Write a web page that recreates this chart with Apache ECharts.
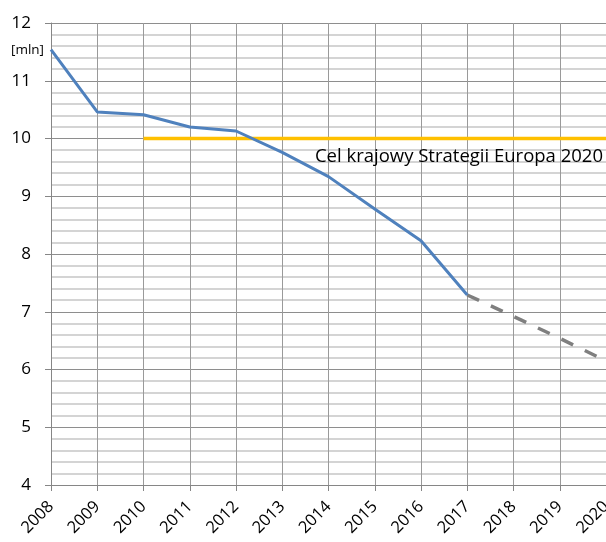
<!DOCTYPE html>
<html>
<head>
<meta charset="utf-8">
<script src="https://cdn.jsdelivr.net/npm/echarts@6/dist/echarts.min.js"></script>
<style>
  html, body { margin: 0; padding: 0; background: #fff; }
  #chart { width: 606px; height: 542px; }
</style>
</head>
<body>
<div id="chart"></div>
<script>
const years = ["2008", "2009", "2010", "2011", "2012", "2013", "2014", "2015", "2016", "2017", "2018", "2019", "2020"]
// wartości rzeczywiste (linia niebieska)
const actual = [11.54, 10.46, 10.41, 10.2, 10.13, 9.76, 9.34, 8.78, 8.23, 7.29, null, null, null]
// prognoza (linia przerywana)
const forecast = [null, null, null, null, null, null, null, null, null, 7.29, 6.92, 6.54, 6.15]
// cel krajowy
const target = [null, null, 10, 10, 10, 10, 10, 10, 10, 10, 10, 10, 10]
const targetLabel = "Cel krajowy Strategii Europa 2020"
const unitLabel = "[mln]"

const font = "Open Sans"
const chart = echarts.init(document.getElementById("chart"))

const targetData = target.map((v, i) =>
  i === target.length - 1
    ? {
        value: v,
        label: {
          show: true,
          formatter: targetLabel,
          position: [-3, 9],
          align: "right",
          verticalAlign: "top",
          color: "#000",
          fontSize: 18.5,
          fontFamily: font,
        },
      }
    : v
)

const option = {
  animation: false,
  grid: { left: 51, right: 0, top: 23, bottom: 57, outerBoundsMode: "none", containLabel: false },
  xAxis: {
    type: "category",
    boundaryGap: false,
    data: years,
    axisLine: { show: true, lineStyle: { color: "#868686", width: 1 } },
    axisTick: { show: true, length: 6, lineStyle: { color: "#868686" } },
    axisLabel: { rotate: 45, margin: 19, color: "#000", fontSize: 16.5, fontFamily: font },
    splitLine: { show: true, lineStyle: { color: "#9a9a9a", width: 1 } },
  },
  yAxis: {
    type: "value",
    min: 4,
    max: 12,
    interval: 1,
    axisLine: { show: true, lineStyle: { color: "#868686" } },
    axisTick: { show: true, length: 6, lineStyle: { color: "#868686" } },
    axisLabel: { margin: 20, color: "#000", fontSize: 17, fontFamily: font },
    splitLine: { show: true, lineStyle: { color: "#8e8e8e", width: 1 } },
    minorTick: { show: false, splitNumber: 5 },
    minorSplitLine: { show: true, lineStyle: { color: "#d4d4d4", width: 2 } },
  },
  graphic: [
    {
      type: "text",
      left: 11,
      top: 43,
      style: { text: unitLabel, fill: "#000", fontSize: 13.5, fontFamily: font },
    },
  ],
  series: [
    {
      type: "line",
      data: targetData,
      symbol: "circle",
      symbolSize: 0,
      showSymbol: true,
      lineStyle: { color: "#FFC000", width: 3.5 },
      itemStyle: { color: "#FFC000" },
      z: 3,
    },
    {
      type: "line",
      data: forecast,
      symbol: "none",
      lineStyle: { color: "#7f7f7f", width: 3.5, type: [13, 13] },
      z: 4,
    },
    {
      type: "line",
      data: actual,
      symbol: "none",
      lineStyle: { color: "#4F81BD", width: 3 },
      z: 5,
    },
  ],
}
chart.setOption(option)
</script>
</body>
</html>
